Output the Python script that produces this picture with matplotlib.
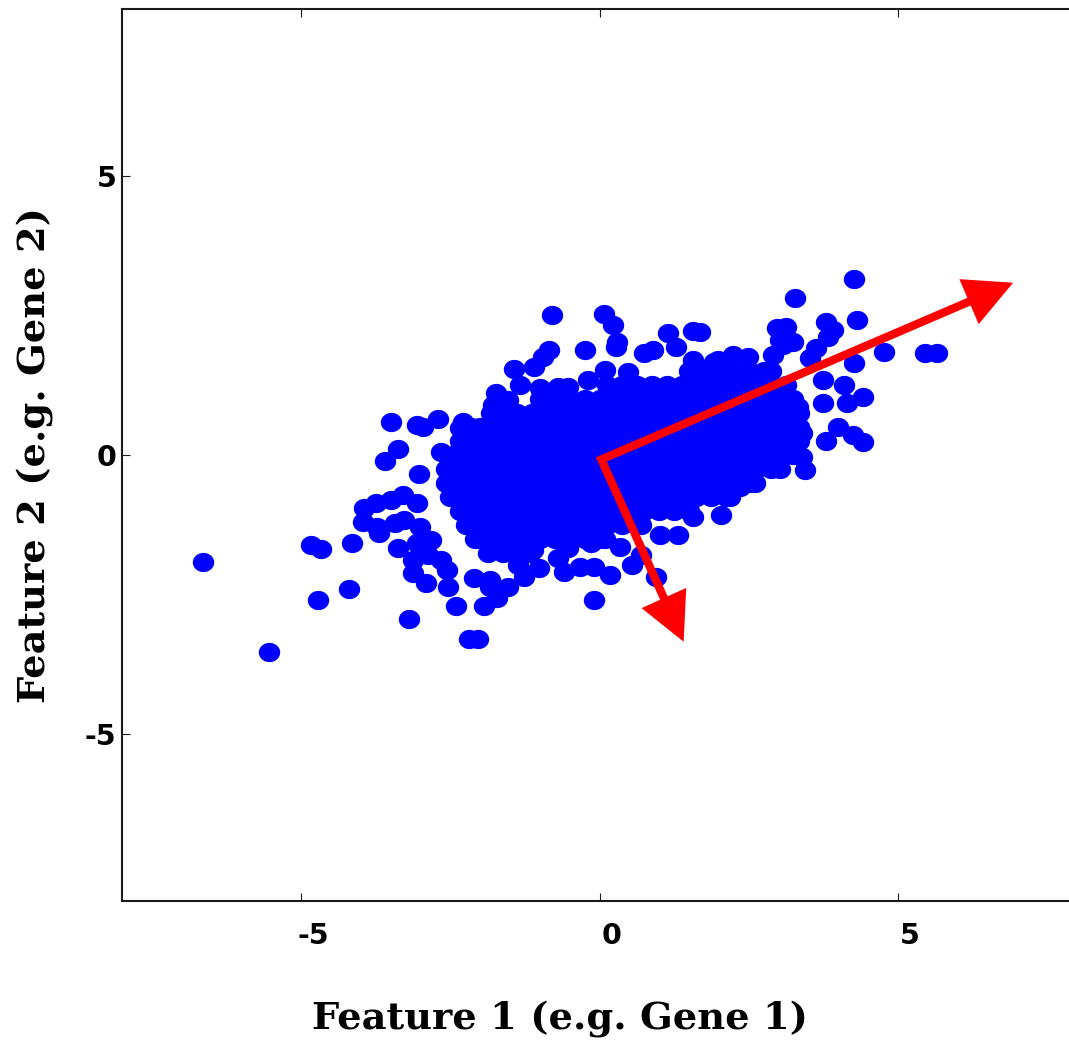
import matplotlib
matplotlib.use("Agg")
import matplotlib.pyplot as plt
import numpy as np
from matplotlib.path import Path
from matplotlib.patches import Polygon
from matplotlib.lines import Line2D
import matplotlib.transforms as mtransforms

# ---------------- data ----------------
# individually visible points, grouped by region: (feature 1, feature 2)
left_pts = [(-6.65, -1.92), (-5.53, -3.54), (-4.84, -1.62), (-4.67, -1.69), (-4.72, -2.60),
            (-4.19, -2.41), (-4.14, -1.58), (-3.20, -2.94), (-3.50, 0.59), (-3.05, 0.54),
            (-2.95, 0.50), (-2.71, 0.65), (-2.29, 0.59), (-2.33, 0.48), (-3.37, 0.11),
            (-3.60, -0.11), (-2.65, 0.05), (-3.02, -0.34), (-1.74, 1.11), (-1.78, 0.90),
            (-1.96, 0.36), (-2.29, 0.23), (-1.88, 0.50), (-3.95, -0.95), (-3.75, -0.86),
            (-3.50, -0.81), (-3.30, -0.72), (-3.97, -1.20), (-3.72, -1.29), (-3.70, -1.40),
            (-3.42, -1.22), (-3.28, -1.17), (-3.05, -0.86), (-3.00, -1.29), (-3.38, -1.67),
            (-3.05, -1.58), (-2.83, -1.53), (-2.88, -1.80), (-3.12, -1.89), (-3.12, -2.12),
            (-2.55, -2.06), (-2.53, -2.37), (-2.90, -2.30), (-2.11, -2.21), (-2.41, -2.71),
            (-1.94, -2.71), (-1.83, -2.37), (-2.03, -3.30), (-2.19, -3.30), (-2.66, -1.89)]
top_pts = [(-0.79, 2.51), (0.08, 2.53), (0.23, 2.33), (0.27, 1.94), (0.30, 2.03),
           (-0.25, 1.89), (-0.84, 1.89), (-0.95, 1.76), (-1.09, 1.58), (-1.44, 1.54),
           (-1.34, 1.26), (-1.54, 0.99), (-0.99, 1.20), (-0.70, 1.22), (-0.52, 1.22),
           (-0.20, 1.35), (0.10, 1.53), (0.47, 1.49), (0.74, 1.83), (0.89, 1.89),
           (1.14, 2.19), (1.56, 2.23), (1.29, 1.94), (1.57, 1.71), (1.91, 1.67)]
bottom_pts = [(1.02, -1.44), (1.32, -1.44), (0.94, -2.19), (0.55, -1.97), (0.18, -2.15),
              (-0.10, -2.60), (-0.10, -2.01), (-0.60, -2.10), (-0.32, -2.01), (-1.02, -2.03),
              (-1.27, -2.19), (-1.54, -2.37), (-1.71, -2.57), (0.69, -1.80), (0.35, -1.65),
              (-0.70, -1.85), (-1.37, -1.97), (-1.83, -2.24), (-0.15, -1.58), (-0.52, -1.67),
              (-1.11, -1.71), (2.03, -1.08), (1.57, -1.11)]
right_pts = [(4.27, 3.16), (3.28, 2.82), (4.32, 2.42), (3.79, 2.39), (3.92, 2.24),
             (2.98, 2.28), (3.12, 2.30), (3.82, 2.12), (3.62, 1.92), (4.76, 1.85),
             (5.46, 1.83), (5.66, 1.83), (4.27, 1.65), (3.03, 2.06), (3.25, 2.03),
             (3.53, 1.74), (2.90, 1.80), (3.07, 1.97), (3.75, 1.35), (4.09, 1.26),
             (4.42, 1.04), (4.15, 0.93), (3.74, 0.93), (3.33, 0.86), (3.32, 0.75),
             (3.99, 0.50), (4.24, 0.36), (4.42, 0.23), (3.79, 0.25), (3.40, 0.39),
             (3.15, 0.09), (3.40, -0.04), (3.45, -0.27), (2.73, 0.05), (2.58, -0.31),
             (2.36, -0.57), (2.03, -0.36), (2.91, 0.39), (2.70, 0.50), (2.48, 1.76),
             (2.24, 1.80), (1.98, 1.71), (1.69, 2.21)]

# dense core, read row by row (feature 2 value of the row, feature 1 values in it)
core_rows_y = [1.5, 1.25, 1.0, 0.75, 0.5, 0.25, 0.0, -0.25, -0.5, -0.75, -1.0, -1.25, -1.5, -1.75]
core_rows_x = [
    [1.5, 1.75, 2.0, 2.25, 2.5, 2.75, 2.87],
    [0.125, 0.375, 0.625, 0.875, 1.125, 1.375, 1.625, 1.875, 2.125, 2.375, 2.625, 2.875, 3.125],
    [-1.0, -0.75, -0.5, -0.25, 0.0, 0.25, 0.5, 0.75, 1.0, 1.25, 1.5, 1.75, 2.0, 2.25, 2.5,
     2.75, 3.0, 3.25],
    [-1.825, -1.625, -1.375, -1.125, -0.875, -0.625, -0.375, -0.125, 0.125, 0.375, 0.625,
     0.875, 1.125, 1.375, 1.625, 1.875, 2.125, 2.375, 2.625, 2.875, 3.125, 3.35],
    [-2.15, -2.0, -1.75, -1.5, -1.25, -1.0, -0.75, -0.5, -0.25, 0.0, 0.25, 0.5, 0.75, 1.0,
     1.25, 1.5, 1.75, 2.0, 2.25, 2.5, 2.75, 3.0, 3.25, 3.35],
    [-2.33, -2.125, -1.875, -1.625, -1.375, -1.125, -0.875, -0.625, -0.375, -0.125, 0.125,
     0.375, 0.625, 0.875, 1.125, 1.375, 1.625, 1.875, 2.125, 2.375, 2.625, 2.875, 3.125, 3.35],
    [-2.46, -2.25, -2.0, -1.75, -1.5, -1.25, -1.0, -0.75, -0.5, -0.25, 0.0, 0.25, 0.5, 0.75,
     1.0, 1.25, 1.5, 1.75, 2.0, 2.25, 2.5, 2.75, 3.0, 3.25],
    [-2.58, -2.375, -2.125, -1.875, -1.625, -1.375, -1.125, -0.875, -0.625, -0.375, -0.125,
     0.125, 0.375, 0.625, 0.875, 1.125, 1.375, 1.625, 1.875, 2.125, 2.375, 2.625, 2.875, 3.03],
    [-2.58, -2.5, -2.25, -2.0, -1.75, -1.5, -1.25, -1.0, -0.75, -0.5, -0.25, 0.0, 0.25, 0.5,
     0.75, 1.0, 1.25, 1.5, 1.75, 2.0, 2.25, 2.5, 2.61],
    [-2.5, -2.375, -2.125, -1.875, -1.625, -1.375, -1.125, -0.875, -0.625, -0.375, -0.125,
     0.125, 0.375, 0.625, 0.875, 1.125, 1.375, 1.625, 1.875, 2.125, 2.19],
    [-2.33, -2.25, -2.0, -1.75, -1.5, -1.25, -1.0, -0.75, -0.5, -0.25, 0.0, 0.25, 0.5, 0.75,
     1.0, 1.25, 1.5],
    [-2.24, -2.125, -1.875, -1.625, -1.375, -1.125, -0.875, -0.625, -0.375, -0.125, 0.125,
     0.375, 0.625, 0.69],
    [-2.08, -2.0, -1.75, -1.5, -1.25, -1.0, -0.75, -0.5, -0.25, 0.0, 0.1],
    [-1.875, -1.625, -1.375, -1.16],
]

# principal component arrows
arrow_origin = (0.03, -0.08)
pc1_tip = (6.93, 3.09)
pc2_tip = (1.41, -3.35)

x_ticks = [-5, 0, 5]
y_ticks = [-5, 0, 5]
tick_labels = ["-5", "0", "5"]
x_label = "Feature 1 (e.g. Gene 1)"
y_label = "Feature 2 (e.g. Gene 2)"
x_limits = (-8, 8)
y_limits = (-8, 8)

# ---------------- figure ----------------
W, H = 1069, 1045
DPI = 100
fig = plt.figure(figsize=(W / DPI, H / DPI), dpi=DPI)
fig.patch.set_facecolor("white")

ax_l, ax_r, ax_t, ax_b = 122, 1077, 9, 901
ax = fig.add_axes([ax_l / W, 1 - ax_b / H, (ax_r - ax_l) / W, (ax_b - ax_t) / H])
ax.set_xlim(*x_limits)
ax.set_ylim(*y_limits)

# collect points
xs, ys = [], []
for grp in (left_pts, top_pts, bottom_pts, right_pts):
    for px, py in grp:
        xs.append(px)
        ys.append(py)
for ry, rx in zip(core_rows_y, core_rows_x):
    for px in rx:
        xs.append(px)
        ys.append(ry)

# slightly wide elliptical dot, as in the original picture
t = np.linspace(0, 2 * np.pi, 80)
ell = Path(np.column_stack([np.cos(t), 0.9 * np.sin(t)]), closed=True)
ax.plot(xs, ys, linestyle="none", marker=ell, markersize=15.4,
        markerfacecolor=(0, 0, 1), markeredgecolor="none", zorder=2)

# spines / ticks
for s in ax.spines.values():
    s.set_linewidth(1.5)
    s.set_color("#1a1a1a")
ax.set_xticks(x_ticks)
ax.set_yticks(y_ticks)
ax.set_xticklabels(tick_labels)
ax.set_yticklabels(tick_labels)
ax.tick_params(direction="in", length=6, width=0.8, top=True, right=True,
               labelsize=20.5, pad=15, colors="#1a1a1a", labelcolor="black")
for lab in ax.get_xticklabels() + ax.get_yticklabels():
    lab.set_fontfamily(["DejaVu Sans"])
    lab.set_fontweight("bold")
offx = mtransforms.ScaledTranslation(12 / DPI, 0, fig.dpi_scale_trans)
for lab in ax.get_xticklabels():
    lab.set_transform(lab.get_transform() + offx)
ax.tick_params(axis="y", pad=4)

# arrows (drawn in display space so the heads are not distorted)
T = ax.transData
P0 = T.transform(arrow_origin)
head_len, head_half = 48.0, 24.5
shaft_pts = []
heads = []
for tip in (pc1_tip, pc2_tip):
    P = T.transform(tip)
    d = P - P0
    u = d / np.hypot(*d)
    n = np.array([-u[1], u[0]])
    B = P - u * head_len
    heads.append([P, B + n * head_half, B - n * head_half])
    shaft_pts.append(B + u * 6)
line_xy = np.array([shaft_pts[0], P0, shaft_pts[1]])
ident = mtransforms.IdentityTransform()
shaft = Line2D(line_xy[:, 0], line_xy[:, 1], transform=ident, color="red",
               linewidth=8.3 * 72 / DPI, solid_joinstyle="miter", solid_capstyle="butt",
               zorder=5)
shaft.set_clip_on(False)
ax.add_line(shaft)
for tri in heads:
    poly = Polygon(tri, closed=True, transform=ident, facecolor="red",
                   edgecolor="none", zorder=6)
    poly.set_clip_on(False)
    ax.add_patch(poly)

# axis labels
serif = ["DejaVu Serif", "Liberation Serif"]
fig.text(560 / W, 1 - 1029 / H, x_label, ha="center", va="baseline",
         fontsize=27.6, fontweight="bold", family=serif)
fig.text(36 / W, 1 - 455 / H, y_label, ha="center", va="center", rotation=90,
         fontsize=27.6, fontweight="bold", family=serif)

fig.savefig("out.png", dpi=DPI, facecolor="white")
